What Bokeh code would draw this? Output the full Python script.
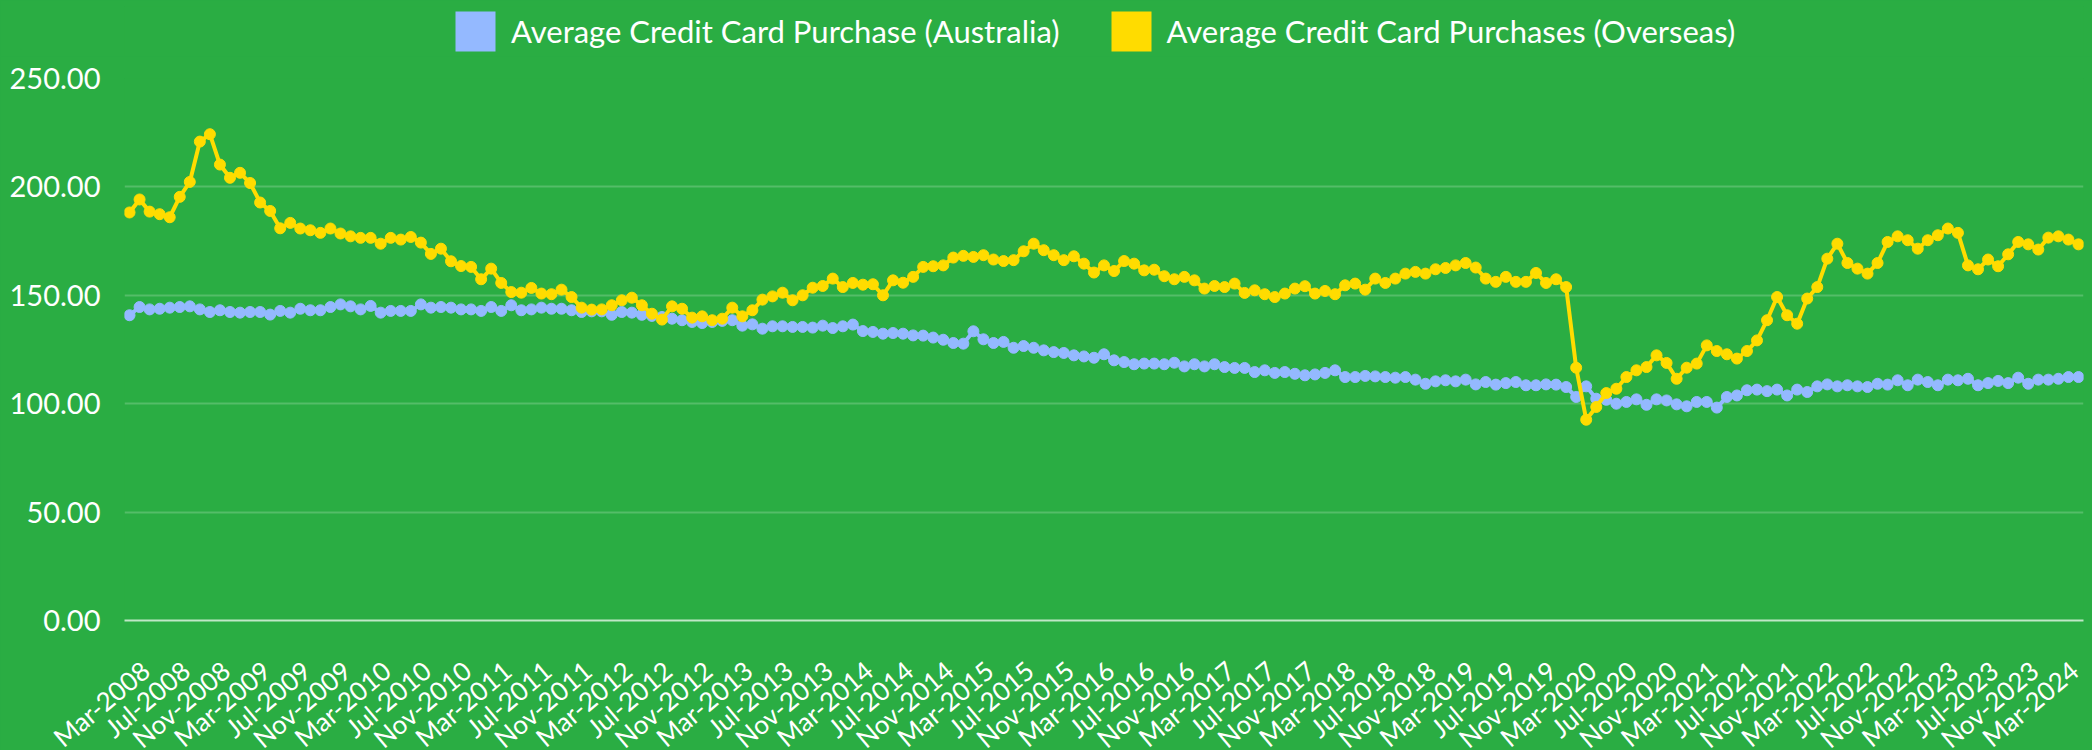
import math
from bokeh.plotting import figure
from bokeh.layouts import column
from bokeh.models import (ColumnDataSource, Range1d, FixedTicker, NumeralTickFormatter,
                          Legend, LegendItem)
from bokeh.embed import file_html
from bokeh.resources import INLINE

# ---------------- data ----------------
MONTH_NAMES = ["Jan", "Feb", "Mar", "Apr", "May", "Jun",
               "Jul", "Aug", "Sep", "Oct", "Nov", "Dec"]
START_YEAR, START_MONTH, N_MONTHS = 2008, 3, 195   # Mar-2008 .. May-2024
months = [f"{MONTH_NAMES[(START_MONTH - 1 + k) % 12]}-{START_YEAR + (START_MONTH - 1 + k) // 12}"
          for k in range(N_MONTHS)]

australia = [
    140.8, 144.6, 143.5, 143.8, 144.3, 144.6, 144.9, 143.5, 142.3, 143.1,
    142.3, 142.0, 142.3, 142.3, 141.1, 142.8, 142.0, 143.8, 143.1, 143.1,
    144.6, 145.8, 144.9, 143.5, 145.1, 142.0, 142.8, 142.8, 142.8, 145.8,
    144.3, 144.6, 144.3, 143.5, 143.5, 142.8, 144.6, 142.8, 145.4, 143.1,
    143.5, 144.3, 143.8, 143.8, 143.1, 142.3, 142.6, 142.6, 141.0,
    142.3, 142.0, 141.0, 140.5, 140.0, 139.2, 138.5, 137.7, 137.2, 137.7,
    138.2, 138.5, 136.0, 136.6, 134.6, 135.7, 135.7, 135.4, 135.4, 135.1,
    136.0, 134.9, 135.7, 136.5, 133.5, 133.1, 132.3, 132.6, 132.3, 131.5,
    131.4, 130.5, 129.5, 128.0, 127.7, 133.4, 129.7, 128.0, 128.5, 125.8,
    126.6, 125.8, 124.6, 123.8, 123.4, 122.3, 121.8, 121.2, 122.8, 120.0,
    119.2, 118.2, 118.5, 118.5, 118.2, 118.9, 117.2, 118.2, 117.2, 118.2,
    116.9, 116.5, 116.5, 114.6, 115.4, 114.2, 114.6, 113.8, 113.1, 113.5,
    114.2, 115.4, 112.3, 112.3, 112.8, 112.6, 112.3, 112.0, 112.3, 111.1,
    109.2, 110.3, 110.8, 110.3, 111.1, 108.9, 110.0, 108.8, 109.5, 110.0,
    108.5, 108.5, 108.9, 108.8, 107.7, 103.1, 108.0, 102.3, 101.8, 100.0,
    100.8, 102.0, 99.5, 102.0, 101.5, 99.7, 98.8, 100.8, 100.8, 98.2,
    103.1, 103.8, 106.2, 106.5, 105.8, 106.5, 103.8, 106.5, 105.4, 108.0,
    108.9, 108.0, 108.5, 108.0, 107.7, 109.2, 108.8, 110.8, 108.5, 111.1,
    110.0, 108.5, 111.1, 110.8, 111.5, 108.5, 109.5, 110.5, 109.5, 112.0,
    109.2, 111.1, 111.1, 111.5, 112.3, 112.3,
]

overseas = [
    188.2, 194.2, 188.6, 187.4, 186.0, 195.4, 202.3, 220.9, 224.3, 210.3,
    204.2, 206.5, 201.8, 192.8, 188.9, 180.9, 183.4, 180.8, 180.0, 178.8,
    180.8, 178.5, 177.2, 176.5, 176.5, 173.8, 176.5, 175.7, 176.9, 174.3,
    169.1, 171.5, 165.7, 163.5, 163.1, 157.4, 162.3, 155.7, 151.5, 151.2,
    153.4, 150.8, 150.5, 152.6, 149.2, 144.3, 143.4, 143.5, 145.4,
    147.7, 148.9, 145.4, 141.5, 138.8, 144.9, 143.8, 139.7, 140.3, 138.5,
    139.2, 144.3, 140.3, 143.1, 148.0, 149.5, 151.2, 147.7, 150.0, 153.5,
    154.3, 157.7, 153.8, 155.7, 154.9, 155.1, 150.0, 156.9, 155.8, 158.5,
    163.1, 163.4, 163.8, 167.4, 168.2, 167.7, 168.5, 166.5, 165.8, 166.2,
    170.3, 173.8, 170.8, 168.5, 166.2, 168.0, 164.6, 160.5, 163.8, 161.2,
    165.8, 164.6, 161.5, 161.8, 158.8, 157.4, 158.5, 156.9, 153.1, 154.3,
    153.8, 155.4, 151.1, 152.3, 150.5, 149.2, 150.8, 153.1, 154.2, 150.8,
    152.0, 150.5, 154.6, 155.4, 152.6, 157.7, 155.7, 157.7, 160.0, 160.8,
    160.0, 162.0, 162.6, 163.8, 164.9, 162.8, 157.7, 156.2, 158.5, 156.2,
    156.2, 160.3, 155.7, 157.4, 153.8, 116.6, 92.6, 98.5, 104.9, 106.9,
    112.3, 115.4, 116.9, 122.3, 118.8, 111.5, 116.6, 118.5, 126.9, 124.3,
    122.8, 120.8, 124.3, 129.2, 138.5, 149.2, 140.8, 136.9, 148.5, 153.8,
    166.9, 173.8, 164.9, 162.3, 160.0, 164.9, 174.6, 177.2, 175.4, 171.5,
    175.4, 177.7, 180.8, 178.8, 163.8, 162.0, 166.5, 163.4, 168.9, 174.6,
    173.5, 171.1, 176.6, 177.2, 175.7, 173.5,
]

series_names = ["Average Credit Card Purchase (Australia)",
                "Average Credit Card Purchases (Overseas)"]
y_ticks = [0, 50, 100, 150, 200, 250]
label_every = 4

# ---------------- style ----------------
BG = "#2AAD43"
BLUE = "#94B9FF"
YELLOW = "#FFDC00"
FONT = "Lato"
W = 2092
LEG_H = 56                  # legend strip
FRAME_TOP = 78              # page y of the 250 gridline
FRAME_H = 542               # 250 -> 0
BOTTOM = 180                # room reserved for the rotated month labels
BORDER_L, BORDER_R = 124, 9
LABEL_SHIFT = 1.6           # month labels hang right of their month (no tick marks drawn)
LABEL_ANGLE = math.radians(40)

src = ColumnDataSource(data=dict(x=list(range(len(months))), aus=australia,
                                 ovs=overseas, month=months))

p = figure(width=W, height=(FRAME_TOP - LEG_H) + FRAME_H + BOTTOM,
           min_border_left=BORDER_L, min_border_right=BORDER_R,
           min_border_top=FRAME_TOP - LEG_H, min_border_bottom=BOTTOM,
           x_range=Range1d(-0.5, len(months) - 0.5), y_range=Range1d(0, 250),
           output_backend="svg", toolbar_location=None)

p.background_fill_color = BG
p.border_fill_color = BG
p.outline_line_color = None

# lines and points
p.line("x", "aus", source=src, line_color=BLUE, line_width=4)
p.scatter("x", "aus", source=src, size=11, fill_color=BLUE, line_color=BLUE)
p.line("x", "ovs", source=src, line_color=YELLOW, line_width=4)
p.scatter("x", "ovs", source=src, size=11, fill_color=YELLOW, line_color=YELLOW)

# axes
label_idx = list(range(0, len(months), label_every))
tick_pos = [i + LABEL_SHIFT for i in label_idx]
p.xaxis.ticker = FixedTicker(ticks=tick_pos)
p.xaxis.major_label_overrides = {t: months[i] for t, i in zip(tick_pos, label_idx)}
p.xaxis.major_label_orientation = LABEL_ANGLE
p.yaxis.ticker = FixedTicker(ticks=y_ticks)
p.yaxis.formatter = NumeralTickFormatter(format="0.00")

for ax in (p.xaxis, p.yaxis):
    ax.major_label_text_color = "white"
    ax.major_label_text_font = FONT
    ax.major_tick_line_color = None
    ax.minor_tick_line_color = None
    ax.major_tick_out = 0
    ax.major_tick_in = 0
p.xaxis.major_label_text_font_size = "26px"
p.yaxis.major_label_text_font_size = "29px"
p.yaxis.axis_line_color = None
p.yaxis.major_label_standoff = 24
p.xaxis.axis_line_color = "white"
p.xaxis.axis_line_alpha = 0.7
p.xaxis.axis_line_width = 2
p.xaxis.major_label_standoff = 46

p.xgrid.grid_line_color = None
p.ygrid.grid_line_color = "white"
p.ygrid.grid_line_alpha = 0.2
p.ygrid.grid_line_width = 2

# ---------------- legend strip (separate small figure on top) ----------------
LG_BORDER_L = 87
lg = figure(width=W, height=LEG_H, min_border_left=LG_BORDER_L, min_border_right=9,
            min_border_top=6, min_border_bottom=0,
            x_range=Range1d(0, 1), y_range=Range1d(0, 1),
            output_backend="svg", toolbar_location=None)
lg.axis.visible = False
lg.grid.visible = False
lg.background_fill_color = BG
lg.border_fill_color = BG
lg.outline_line_color = None
r_leg_a = lg.quad(left=[-10], right=[-9], top=[-10], bottom=[-11],
                  fill_color=BLUE, line_color=None)
r_leg_o = lg.quad(left=[-10], right=[-9], top=[-10], bottom=[-11],
                  fill_color=YELLOW, line_color=None)
legend = Legend(items=[LegendItem(label=series_names[0], renderers=[r_leg_a]),
                       LegendItem(label=series_names[1], renderers=[r_leg_o])],
                orientation="horizontal", location=(326, 0),
                glyph_width=50, glyph_height=50, label_standoff=11, spacing=46,
                padding=0, margin=0,
                label_text_font=FONT, label_text_font_size="31px",
                label_text_color="white",
                background_fill_alpha=0, border_line_color=None)
lg.add_layout(legend, "center")

layout = column(lg, p, spacing=0)

html = file_html(layout, INLINE)
html = html.replace("<head>",
                    "<head><style>html,body{background:%s;overflow:hidden;}</style>" % BG, 1)
open("out.html", "w").write(html)
